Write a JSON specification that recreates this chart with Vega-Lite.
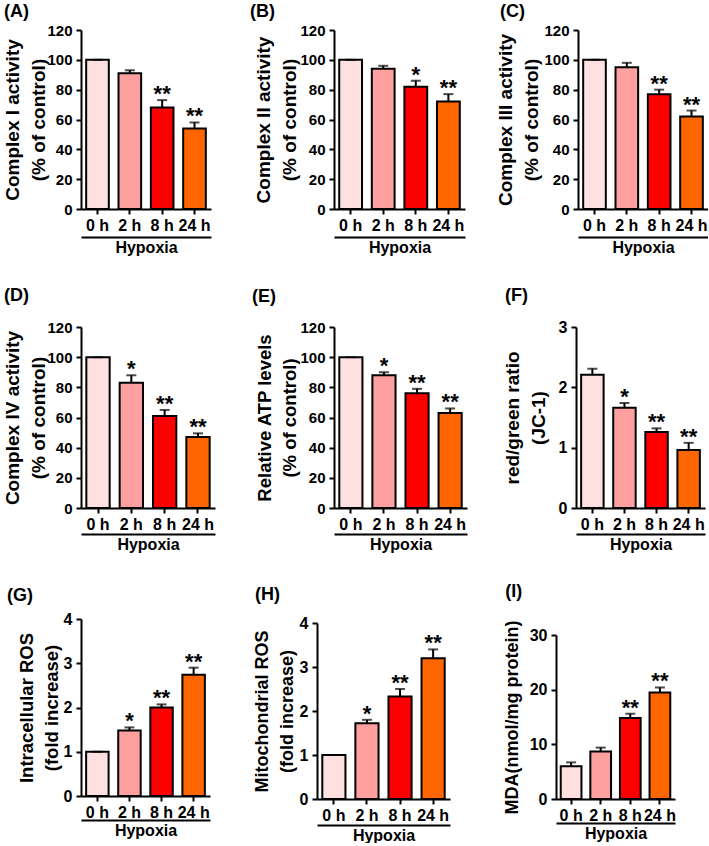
{
  "$schema": "https://vega.github.io/schema/vega-lite/v6.json",
  "background": "white",
  "padding": {"left": 3, "top": 2, "right": 0, "bottom": 0},
  "data": {"values": [
    {"panel": "A", "time": "0 h", "value": 100, "upper": 100, "star": ""},
    {"panel": "A", "time": "2 h", "value": 91, "upper": 93, "star": ""},
    {"panel": "A", "time": "8 h", "value": 68, "upper": 73, "star": "**"},
    {"panel": "A", "time": "24 h", "value": 54, "upper": 58, "star": "**"},
    {"panel": "B", "time": "0 h", "value": 100, "upper": 100, "star": ""},
    {"panel": "B", "time": "2 h", "value": 94, "upper": 96, "star": ""},
    {"panel": "B", "time": "8 h", "value": 82, "upper": 86, "star": "*"},
    {"panel": "B", "time": "24 h", "value": 72, "upper": 77, "star": "**"},
    {"panel": "C", "time": "0 h", "value": 100, "upper": 100, "star": ""},
    {"panel": "C", "time": "2 h", "value": 95, "upper": 98, "star": ""},
    {"panel": "C", "time": "8 h", "value": 77, "upper": 80, "star": "**"},
    {"panel": "C", "time": "24 h", "value": 62, "upper": 66, "star": "**"},
    {"panel": "D", "time": "0 h", "value": 100, "upper": 100, "star": ""},
    {"panel": "D", "time": "2 h", "value": 83, "upper": 88, "star": "*"},
    {"panel": "D", "time": "8 h", "value": 61, "upper": 65, "star": "**"},
    {"panel": "D", "time": "24 h", "value": 47, "upper": 49.5, "star": "**"},
    {"panel": "E", "time": "0 h", "value": 100, "upper": 100, "star": ""},
    {"panel": "E", "time": "2 h", "value": 88, "upper": 90, "star": "*"},
    {"panel": "E", "time": "8 h", "value": 76, "upper": 79, "star": "**"},
    {"panel": "E", "time": "24 h", "value": 63, "upper": 66, "star": "**"},
    {"panel": "F", "time": "0 h", "value": 2.21, "upper": 2.31, "star": ""},
    {"panel": "F", "time": "2 h", "value": 1.66, "upper": 1.74, "star": "*"},
    {"panel": "F", "time": "8 h", "value": 1.26, "upper": 1.32, "star": "**"},
    {"panel": "F", "time": "24 h", "value": 0.96, "upper": 1.08, "star": "**"},
    {"panel": "G", "time": "0 h", "value": 1, "upper": 1, "star": ""},
    {"panel": "G", "time": "2 h", "value": 1.48, "upper": 1.55, "star": "*"},
    {"panel": "G", "time": "8 h", "value": 2.0, "upper": 2.07, "star": "**"},
    {"panel": "G", "time": "24 h", "value": 2.74, "upper": 2.9, "star": "**"},
    {"panel": "H", "time": "0 h", "value": 1, "upper": 1, "star": ""},
    {"panel": "H", "time": "2 h", "value": 1.72, "upper": 1.8, "star": "*"},
    {"panel": "H", "time": "8 h", "value": 2.33, "upper": 2.5, "star": "**"},
    {"panel": "H", "time": "24 h", "value": 3.2, "upper": 3.4, "star": "**"},
    {"panel": "I", "time": "0 h", "value": 6.0, "upper": 6.7, "star": ""},
    {"panel": "I", "time": "2 h", "value": 8.7, "upper": 9.4, "star": ""},
    {"panel": "I", "time": "8 h", "value": 14.8, "upper": 15.6, "star": "**"},
    {"panel": "I", "time": "24 h", "value": 19.5, "upper": 20.4, "star": "**"}
  ]},
  "concat": [
    {
      "concat": [
        {
          "width": 130, "height": 179,
          "title": {"text": "(A)", "offset": 2.5, "dx": 0},
          "transform": [{"filter": "datum.panel === 'A'"}],
          "layer": [
            {"mark": {"type": "bar", "stroke": "black", "strokeWidth": 2},
             "encoding": {
               "x": {"field": "time", "type": "nominal", "sort": ["0 h", "2 h", "8 h", "24 h"], "scale": {"paddingInner": 0.3, "paddingOuter": 0.16}, "axis": {"title": null, "labelFontSize": 16}},
               "y": {"field": "value", "type": "quantitative", "scale": {"domain": [0, 120], "nice": false}, "axis": {"title": ["Complex I activity", "(% of control)"], "values": [0, 20, 40, 60, 80, 100, 120], "tickCount": 20, "labelFontSize": 15, "labelOverlap": false, "titleFontSize": 19, "titleLineHeight": 26, "titleBaseline": "top", "titlePadding": 17}},
               "color": {"field": "time", "type": "nominal", "scale": {"domain": ["0 h", "2 h", "8 h", "24 h"], "range": ["#FFE0E0", "#FFA0A0", "#FF0000", "#FF6600"]}, "legend": null}}},
            {"mark": {"type": "rule", "strokeWidth": 2, "color": "black"},
             "encoding": {"x": {"field": "time", "type": "nominal", "sort": ["0 h", "2 h", "8 h", "24 h"], "axis": null}, "y": {"field": "value", "type": "quantitative"}, "y2": {"field": "upper"}}},
            {"mark": {"type": "tick", "size": 10, "thickness": 2, "color": "black"},
             "encoding": {"x": {"field": "time", "type": "nominal", "sort": ["0 h", "2 h", "8 h", "24 h"], "axis": null}, "y": {"field": "upper", "type": "quantitative"}}},
            {"mark": {"type": "text", "fontSize": 22, "fontWeight": "bold", "baseline": "alphabetic", "dy": 1, "color": "black"},
             "encoding": {"x": {"field": "time", "type": "nominal", "sort": ["0 h", "2 h", "8 h", "24 h"], "axis": {"orient": "bottom", "offset": 28, "labels": false, "ticks": false, "title": "Hypoxia", "titleFontSize": 16, "titlePadding": 2}}, "y": {"field": "upper", "type": "quantitative"}, "text": {"field": "star"}}}
          ],
          "resolve": {"axis": {"x": "independent"}}
        },
        {
          "concat": [
            {
              "width": 131, "height": 179,
              "title": {"text": "(B)", "offset": 2.5, "dx": -5},
              "transform": [{"filter": "datum.panel === 'B'"}],
              "layer": [
                {"mark": {"type": "bar", "stroke": "black", "strokeWidth": 2},
                 "encoding": {
                   "x": {"field": "time", "type": "nominal", "sort": ["0 h", "2 h", "8 h", "24 h"], "scale": {"paddingInner": 0.3, "paddingOuter": 0.16}, "axis": {"title": null, "labelFontSize": 16}},
                   "y": {"field": "value", "type": "quantitative", "scale": {"domain": [0, 120], "nice": false}, "axis": {"title": ["Complex II activity", "(% of control)"], "values": [0, 20, 40, 60, 80, 100, 120], "tickCount": 20, "labelFontSize": 15, "labelOverlap": false, "titleFontSize": 19, "titleLineHeight": 26, "titleBaseline": "top", "titlePadding": 19}},
                   "color": {"field": "time", "type": "nominal", "scale": {"domain": ["0 h", "2 h", "8 h", "24 h"], "range": ["#FFE0E0", "#FFA0A0", "#FF0000", "#FF6600"]}, "legend": null}}},
                {"mark": {"type": "rule", "strokeWidth": 2, "color": "black"},
                 "encoding": {"x": {"field": "time", "type": "nominal", "sort": ["0 h", "2 h", "8 h", "24 h"], "axis": null}, "y": {"field": "value", "type": "quantitative"}, "y2": {"field": "upper"}}},
                {"mark": {"type": "tick", "size": 10, "thickness": 2, "color": "black"},
                 "encoding": {"x": {"field": "time", "type": "nominal", "sort": ["0 h", "2 h", "8 h", "24 h"], "axis": null}, "y": {"field": "upper", "type": "quantitative"}}},
                {"mark": {"type": "text", "fontSize": 22, "fontWeight": "bold", "baseline": "alphabetic", "dy": 1, "color": "black"},
                 "encoding": {"x": {"field": "time", "type": "nominal", "sort": ["0 h", "2 h", "8 h", "24 h"], "axis": {"orient": "bottom", "offset": 28, "labels": false, "ticks": false, "title": "Hypoxia", "titleFontSize": 16, "titlePadding": 2}}, "y": {"field": "upper", "type": "quantitative"}, "text": {"field": "star"}}}
              ],
              "resolve": {"axis": {"x": "independent"}}
            },
            {
              "width": 130, "height": 179,
              "title": {"text": "(C)", "offset": 2.5, "dx": 3},
              "transform": [{"filter": "datum.panel === 'C'"}],
              "layer": [
                {"mark": {"type": "bar", "stroke": "black", "strokeWidth": 2},
                 "encoding": {
                   "x": {"field": "time", "type": "nominal", "sort": ["0 h", "2 h", "8 h", "24 h"], "scale": {"paddingInner": 0.3, "paddingOuter": 0.16}, "axis": {"title": null, "labelFontSize": 16}},
                   "y": {"field": "value", "type": "quantitative", "scale": {"domain": [0, 120], "nice": false}, "axis": {"title": ["Complex III activity", "(% of control)"], "values": [0, 20, 40, 60, 80, 100, 120], "tickCount": 20, "labelFontSize": 15, "labelOverlap": false, "titleFontSize": 19, "titleLineHeight": 26, "titleBaseline": "top", "titlePadding": 21}},
                   "color": {"field": "time", "type": "nominal", "scale": {"domain": ["0 h", "2 h", "8 h", "24 h"], "range": ["#FFE0E0", "#FFA0A0", "#FF0000", "#FF6600"]}, "legend": null}}},
                {"mark": {"type": "rule", "strokeWidth": 2, "color": "black"},
                 "encoding": {"x": {"field": "time", "type": "nominal", "sort": ["0 h", "2 h", "8 h", "24 h"], "axis": null}, "y": {"field": "value", "type": "quantitative"}, "y2": {"field": "upper"}}},
                {"mark": {"type": "tick", "size": 10, "thickness": 2, "color": "black"},
                 "encoding": {"x": {"field": "time", "type": "nominal", "sort": ["0 h", "2 h", "8 h", "24 h"], "axis": null}, "y": {"field": "upper", "type": "quantitative"}}},
                {"mark": {"type": "text", "fontSize": 22, "fontWeight": "bold", "baseline": "alphabetic", "dy": 1, "color": "black"},
                 "encoding": {"x": {"field": "time", "type": "nominal", "sort": ["0 h", "2 h", "8 h", "24 h"], "axis": {"orient": "bottom", "offset": 28, "labels": false, "ticks": false, "title": "Hypoxia", "titleFontSize": 16, "titlePadding": 2}}, "y": {"field": "upper", "type": "quantitative"}, "text": {"field": "star"}}}
              ],
              "resolve": {"axis": {"x": "independent"}}
            }
          ],
          "columns": 2, "align": "none", "spacing": 31
        }
      ],
      "columns": 2, "align": "none", "spacing": 38
    },
    {
      "concat": [
        {
          "width": 134, "height": 181,
          "title": {"text": "(D)", "offset": 15.5, "dx": 0},
          "transform": [{"filter": "datum.panel === 'D'"}],
          "layer": [
            {"mark": {"type": "bar", "stroke": "black", "strokeWidth": 2},
             "encoding": {
               "x": {"field": "time", "type": "nominal", "sort": ["0 h", "2 h", "8 h", "24 h"], "scale": {"paddingInner": 0.3, "paddingOuter": 0.16}, "axis": {"title": null, "labelFontSize": 16}},
               "y": {"field": "value", "type": "quantitative", "scale": {"domain": [0, 120], "nice": false}, "axis": {"title": ["Complex IV activity", "(% of control)"], "values": [0, 20, 40, 60, 80, 100, 120], "tickCount": 20, "labelFontSize": 15, "labelOverlap": false, "titleFontSize": 19, "titleLineHeight": 26, "titleBaseline": "top", "titlePadding": 17}},
               "color": {"field": "time", "type": "nominal", "scale": {"domain": ["0 h", "2 h", "8 h", "24 h"], "range": ["#FFE0E0", "#FFA0A0", "#FF0000", "#FF6600"]}, "legend": null}}},
            {"mark": {"type": "rule", "strokeWidth": 2, "color": "black"},
             "encoding": {"x": {"field": "time", "type": "nominal", "sort": ["0 h", "2 h", "8 h", "24 h"], "axis": null}, "y": {"field": "value", "type": "quantitative"}, "y2": {"field": "upper"}}},
            {"mark": {"type": "tick", "size": 10, "thickness": 2, "color": "black"},
             "encoding": {"x": {"field": "time", "type": "nominal", "sort": ["0 h", "2 h", "8 h", "24 h"], "axis": null}, "y": {"field": "upper", "type": "quantitative"}}},
            {"mark": {"type": "text", "fontSize": 22, "fontWeight": "bold", "baseline": "alphabetic", "dy": 1, "color": "black"},
             "encoding": {"x": {"field": "time", "type": "nominal", "sort": ["0 h", "2 h", "8 h", "24 h"], "axis": {"orient": "bottom", "offset": 26, "labels": false, "ticks": false, "title": "Hypoxia", "titleFontSize": 16, "titlePadding": 2}}, "y": {"field": "upper", "type": "quantitative"}, "text": {"field": "star"}}}
          ],
          "resolve": {"axis": {"x": "independent"}}
        },
        {
          "concat": [
            {
              "width": 133, "height": 181,
              "title": {"text": "(E)", "offset": 14.5, "dx": -4},
              "transform": [{"filter": "datum.panel === 'E'"}],
              "layer": [
                {"mark": {"type": "bar", "stroke": "black", "strokeWidth": 2},
                 "encoding": {
                   "x": {"field": "time", "type": "nominal", "sort": ["0 h", "2 h", "8 h", "24 h"], "scale": {"paddingInner": 0.3, "paddingOuter": 0.16}, "axis": {"title": null, "labelFontSize": 16}},
                   "y": {"field": "value", "type": "quantitative", "scale": {"domain": [0, 120], "nice": false}, "axis": {"title": ["Relative ATP levels", "(% of control)"], "values": [0, 20, 40, 60, 80, 100, 120], "tickCount": 20, "labelFontSize": 15, "labelOverlap": false, "titleFontSize": 18.5, "titleLineHeight": 25, "titleBaseline": "top", "titlePadding": 19}},
                   "color": {"field": "time", "type": "nominal", "scale": {"domain": ["0 h", "2 h", "8 h", "24 h"], "range": ["#FFE0E0", "#FFA0A0", "#FF0000", "#FF6600"]}, "legend": null}}},
                {"mark": {"type": "rule", "strokeWidth": 2, "color": "black"},
                 "encoding": {"x": {"field": "time", "type": "nominal", "sort": ["0 h", "2 h", "8 h", "24 h"], "axis": null}, "y": {"field": "value", "type": "quantitative"}, "y2": {"field": "upper"}}},
                {"mark": {"type": "tick", "size": 10, "thickness": 2, "color": "black"},
                 "encoding": {"x": {"field": "time", "type": "nominal", "sort": ["0 h", "2 h", "8 h", "24 h"], "axis": null}, "y": {"field": "upper", "type": "quantitative"}}},
                {"mark": {"type": "text", "fontSize": 22, "fontWeight": "bold", "baseline": "alphabetic", "dy": 1, "color": "black"},
                 "encoding": {"x": {"field": "time", "type": "nominal", "sort": ["0 h", "2 h", "8 h", "24 h"], "axis": {"orient": "bottom", "offset": 26, "labels": false, "ticks": false, "title": "Hypoxia", "titleFontSize": 16, "titlePadding": 2}}, "y": {"field": "upper", "type": "quantitative"}, "text": {"field": "star"}}}
              ],
              "resolve": {"axis": {"x": "independent"}}
            },
            {
              "width": 129, "height": 181,
              "title": {"text": "(F)", "offset": 14, "dx": 2},
              "transform": [{"filter": "datum.panel === 'F'"}],
              "layer": [
                {"mark": {"type": "bar", "stroke": "black", "strokeWidth": 2},
                 "encoding": {
                   "x": {"field": "time", "type": "nominal", "sort": ["0 h", "2 h", "8 h", "24 h"], "scale": {"paddingInner": 0.3, "paddingOuter": 0.16}, "axis": {"title": null, "labelFontSize": 16}},
                   "y": {"field": "value", "type": "quantitative", "scale": {"domain": [0, 3], "nice": false}, "axis": {"title": ["red/green ratio", "(JC-1)"], "values": [0, 1, 2, 3], "tickCount": 20, "format": "d", "labelFontSize": 16, "labelOverlap": false, "titleFontSize": 19, "titleLineHeight": 26, "titleBaseline": "top", "titlePadding": 29}},
                   "color": {"field": "time", "type": "nominal", "scale": {"domain": ["0 h", "2 h", "8 h", "24 h"], "range": ["#FFE0E0", "#FFA0A0", "#FF0000", "#FF6600"]}, "legend": null}}},
                {"mark": {"type": "rule", "strokeWidth": 2, "color": "black"},
                 "encoding": {"x": {"field": "time", "type": "nominal", "sort": ["0 h", "2 h", "8 h", "24 h"], "axis": null}, "y": {"field": "value", "type": "quantitative"}, "y2": {"field": "upper"}}},
                {"mark": {"type": "tick", "size": 10, "thickness": 2, "color": "black"},
                 "encoding": {"x": {"field": "time", "type": "nominal", "sort": ["0 h", "2 h", "8 h", "24 h"], "axis": null}, "y": {"field": "upper", "type": "quantitative"}}},
                {"mark": {"type": "text", "fontSize": 22, "fontWeight": "bold", "baseline": "alphabetic", "dy": 1, "color": "black"},
                 "encoding": {"x": {"field": "time", "type": "nominal", "sort": ["0 h", "2 h", "8 h", "24 h"], "axis": {"orient": "bottom", "offset": 26, "labels": false, "ticks": false, "title": "Hypoxia", "titleFontSize": 16, "titlePadding": 2}}, "y": {"field": "upper", "type": "quantitative"}, "text": {"field": "star"}}}
              ],
              "resolve": {"axis": {"x": "independent"}}
            }
          ],
          "columns": 2, "align": "none", "spacing": 36
        }
      ],
      "columns": 2, "align": "none", "spacing": 36
    },
    {
      "concat": [
        {
          "width": 129, "height": 177,
          "title": {"text": "(G)", "offset": 6, "dx": -10},
          "transform": [{"filter": "datum.panel === 'G'"}],
          "layer": [
            {"mark": {"type": "bar", "stroke": "black", "strokeWidth": 2},
             "encoding": {
               "x": {"field": "time", "type": "nominal", "sort": ["0 h", "2 h", "8 h", "24 h"], "scale": {"paddingInner": 0.3, "paddingOuter": 0.16}, "axis": {"title": null, "labelFontSize": 16}},
               "y": {"field": "value", "type": "quantitative", "scale": {"domain": [0, 4], "nice": false}, "axis": {"title": ["Intracellular ROS", "(fold increase)"], "values": [0, 1, 2, 3, 4], "tickCount": 20, "format": "d", "labelFontSize": 16, "labelOverlap": false, "titleFontSize": 18.5, "titleLineHeight": 25, "titleBaseline": "top", "titlePadding": 21}},
               "color": {"field": "time", "type": "nominal", "scale": {"domain": ["0 h", "2 h", "8 h", "24 h"], "range": ["#FFE0E0", "#FFA0A0", "#FF0000", "#FF6600"]}, "legend": null}}},
            {"mark": {"type": "rule", "strokeWidth": 2, "color": "black"},
             "encoding": {"x": {"field": "time", "type": "nominal", "sort": ["0 h", "2 h", "8 h", "24 h"], "axis": null}, "y": {"field": "value", "type": "quantitative"}, "y2": {"field": "upper"}}},
            {"mark": {"type": "tick", "size": 10, "thickness": 2, "color": "black"},
             "encoding": {"x": {"field": "time", "type": "nominal", "sort": ["0 h", "2 h", "8 h", "24 h"], "axis": null}, "y": {"field": "upper", "type": "quantitative"}}},
            {"mark": {"type": "text", "fontSize": 22, "fontWeight": "bold", "baseline": "alphabetic", "dy": 1, "color": "black"},
             "encoding": {"x": {"field": "time", "type": "nominal", "sort": ["0 h", "2 h", "8 h", "24 h"], "axis": {"orient": "bottom", "offset": 24, "labels": false, "ticks": false, "title": "Hypoxia", "titleFontSize": 16, "titlePadding": 2}}, "y": {"field": "upper", "type": "quantitative"}, "text": {"field": "star"}}}
          ],
          "resolve": {"axis": {"x": "independent"}}
        },
        {
          "concat": [
            {
              "width": 133, "height": 180,
              "title": {"text": "(H)", "offset": 11, "dx": 2},
              "transform": [{"filter": "datum.panel === 'H'"}],
              "layer": [
                {"mark": {"type": "bar", "stroke": "black", "strokeWidth": 2},
                 "encoding": {
                   "x": {"field": "time", "type": "nominal", "sort": ["0 h", "2 h", "8 h", "24 h"], "scale": {"paddingInner": 0.3, "paddingOuter": 0.16}, "axis": {"title": null, "labelFontSize": 16}},
                   "y": {"field": "value", "type": "quantitative", "scale": {"domain": [0, 4], "nice": false, "range": [180, 4]}, "axis": {"title": ["Mitochondrial ROS", "(fold increase)"], "values": [0, 1, 2, 3, 4], "tickCount": 20, "format": "d", "labelFontSize": 16, "labelOverlap": false, "titleFontSize": 18, "titleLineHeight": 25, "titleBaseline": "top", "titlePadding": 21}},
                   "color": {"field": "time", "type": "nominal", "scale": {"domain": ["0 h", "2 h", "8 h", "24 h"], "range": ["#FFE0E0", "#FFA0A0", "#FF0000", "#FF6600"]}, "legend": null}}},
                {"mark": {"type": "rule", "strokeWidth": 2, "color": "black"},
                 "encoding": {"x": {"field": "time", "type": "nominal", "sort": ["0 h", "2 h", "8 h", "24 h"], "axis": null}, "y": {"field": "value", "type": "quantitative"}, "y2": {"field": "upper"}}},
                {"mark": {"type": "tick", "size": 10, "thickness": 2, "color": "black"},
                 "encoding": {"x": {"field": "time", "type": "nominal", "sort": ["0 h", "2 h", "8 h", "24 h"], "axis": null}, "y": {"field": "upper", "type": "quantitative"}}},
                {"mark": {"type": "text", "fontSize": 22, "fontWeight": "bold", "baseline": "alphabetic", "dy": 1, "color": "black"},
                 "encoding": {"x": {"field": "time", "type": "nominal", "sort": ["0 h", "2 h", "8 h", "24 h"], "axis": {"orient": "bottom", "offset": 26, "labels": false, "ticks": false, "title": "Hypoxia", "titleFontSize": 16, "titlePadding": 2}}, "y": {"field": "upper", "type": "quantitative"}, "text": {"field": "star"}}}
              ],
              "resolve": {"axis": {"x": "independent"}}
            },
            {
              "width": 119, "height": 180,
              "title": {"text": "(I)", "offset": 18, "dx": 2},
              "transform": [{"filter": "datum.panel === 'I'"}],
              "layer": [
                {"mark": {"type": "bar", "stroke": "black", "strokeWidth": 2},
                 "encoding": {
                   "x": {"field": "time", "type": "nominal", "sort": ["0 h", "2 h", "8 h", "24 h"], "scale": {"paddingInner": 0.3, "paddingOuter": 0.16}, "axis": {"title": null, "labelFontSize": 16}},
                   "y": {"field": "value", "type": "quantitative", "scale": {"domain": [0, 30], "nice": false, "range": [180, 16]}, "axis": {"title": "MDA(nmol/mg protein)", "values": [0, 10, 20, 30], "tickCount": 20, "format": "d", "labelFontSize": 16, "labelOverlap": false, "titleFontSize": 18, "titleBaseline": "top", "titlePadding": 26}},
                   "color": {"field": "time", "type": "nominal", "scale": {"domain": ["0 h", "2 h", "8 h", "24 h"], "range": ["#FFE0E0", "#FFA0A0", "#FF0000", "#FF6600"]}, "legend": null}}},
                {"mark": {"type": "rule", "strokeWidth": 2, "color": "black"},
                 "encoding": {"x": {"field": "time", "type": "nominal", "sort": ["0 h", "2 h", "8 h", "24 h"], "axis": null}, "y": {"field": "value", "type": "quantitative"}, "y2": {"field": "upper"}}},
                {"mark": {"type": "tick", "size": 10, "thickness": 2, "color": "black"},
                 "encoding": {"x": {"field": "time", "type": "nominal", "sort": ["0 h", "2 h", "8 h", "24 h"], "axis": null}, "y": {"field": "upper", "type": "quantitative"}}},
                {"mark": {"type": "text", "fontSize": 22, "fontWeight": "bold", "baseline": "alphabetic", "dy": 1, "color": "black"},
                 "encoding": {"x": {"field": "time", "type": "nominal", "sort": ["0 h", "2 h", "8 h", "24 h"], "axis": {"orient": "bottom", "offset": 24, "labels": false, "ticks": false, "title": "Hypoxia", "titleFontSize": 16, "titlePadding": 2}}, "y": {"field": "upper", "type": "quantitative"}, "text": {"field": "star"}}}
              ],
              "resolve": {"axis": {"x": "independent"}}
            }
          ],
          "columns": 2, "align": "none", "spacing": 53
        }
      ],
      "columns": 2, "align": "none", "spacing": 43
    }
  ],
  "columns": 1, "align": "none", "spacing": 31,
  "config": {
    "view": {"stroke": null},
    "font": "Liberation Sans",
    "axis": {"domainColor": "black", "domainWidth": 2, "tickColor": "black", "tickWidth": 2, "tickSize": 5, "labelColor": "black", "labelFont": "Liberation Sans", "labelFontWeight": "bold", "labelFontSize": 15, "labelOverlap": false, "titleFont": "Liberation Sans", "titleFontWeight": "bold", "titleColor": "black", "grid": false},
    "axisX": {"labelAngle": 0, "labelOverlap": false, "labelPadding": 3},
    "axisY": {"labelPadding": 4},
    "title": {"font": "Liberation Sans", "fontSize": 18, "fontWeight": "bold", "color": "black", "anchor": "start", "frame": "bounds"}
  }
}
